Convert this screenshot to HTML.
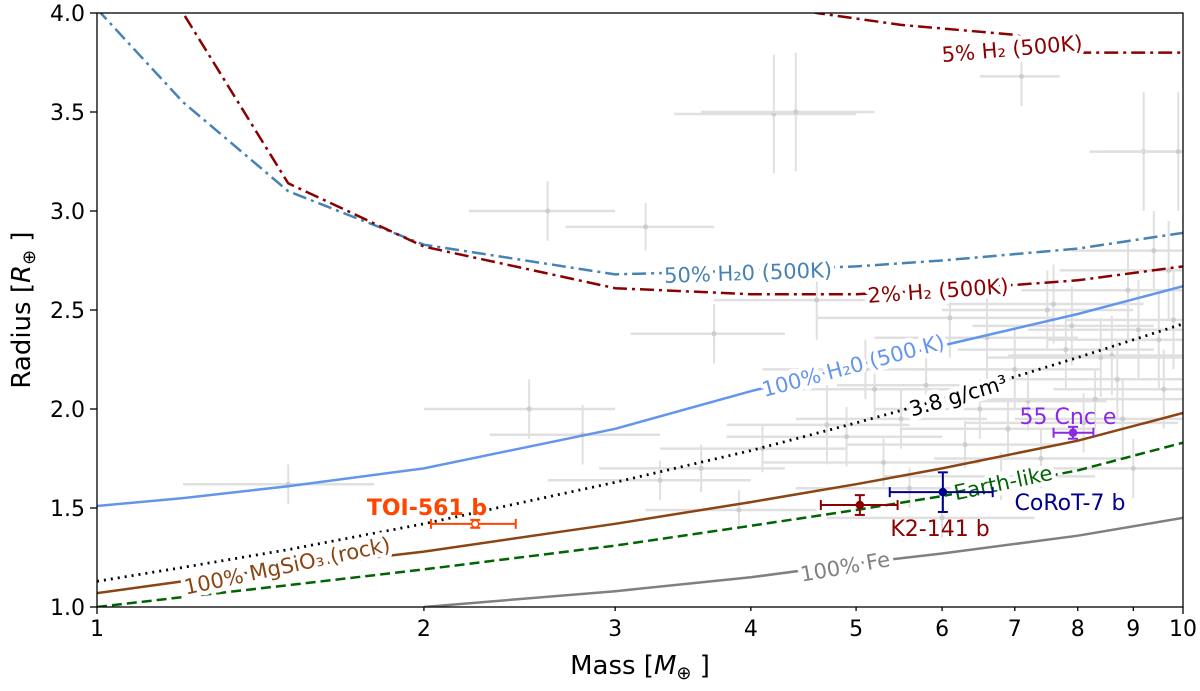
<!DOCTYPE html>
<html><head><meta charset="utf-8"><style>
body{margin:0;background:#fff}
svg text{font-family:"DejaVu Sans","Liberation Sans",sans-serif}
</style></head><body>
<svg id="chart" width="1200" height="686" viewBox="0 0 1200 686">
<defs><clipPath id="clip"><rect x="97" y="13" width="1086" height="594"/></clipPath></defs>
<g id="bg" clip-path="url(#clip)"></g>
<g id="curves" clip-path="url(#clip)"></g>
<g id="labels"></g>
<g id="pts"></g>
<rect x="97" y="13" width="1086" height="594" fill="none" stroke="#000" stroke-width="1.3"/>
<g id="axes"></g>
<text x="640" y="674" font-size="26" text-anchor="middle">Mass [<tspan font-style="italic">M</tspan><tspan font-size="18" dy="5">⊕</tspan><tspan dy="-5"> ]</tspan></text>
<text transform="translate(30,310) rotate(-90)" font-size="26" text-anchor="middle">Radius [<tspan font-style="italic">R</tspan><tspan font-size="18" dy="5">⊕</tspan><tspan dy="-5"> ]</tspan></text>
</svg>
<script>
const masses=[1,1.2,1.5,2,3,4,5,6,8,10];
const feR=[null,null,null,1.0,1.08,1.15,1.22,1.27,1.36,1.45];
const earthR=[1.0,1.05,1.11,1.19,1.31,1.41,1.49,1.56,1.69,1.83];
const rockR=[1.07,1.13,1.2,1.28,1.42,1.53,1.62,1.70,1.84,1.98];
const dens38R=[1.13,1.2,1.29,1.42,1.63,1.79,1.93,2.05,2.26,2.43];
const waterR=[1.51,1.55,1.61,1.70,1.90,2.09,2.22,2.32,2.48,2.62];
const h2o50R=[4.02,3.55,3.1,2.83,2.68,2.70,2.72,2.75,2.81,2.89];
const h2pct2R=[4.3,4.0,3.14,2.82,2.61,2.58,2.58,2.60,2.65,2.72];
const h2pct5M=[4.3,4.6,5.5,7,8,10];
const h2pct5R=[4.04,4.0,3.94,3.89,3.8,3.8];
const planetNames=["TOI-561 b","K2-141 b","CoRoT-7 b","55 Cnc e"];
const planetM=[2.23,5.04,6.01,7.92];
const planetMlo=[2.03,4.64,5.37,7.6];
const planetMhi=[2.43,5.46,6.68,8.27];
const planetR=[1.42,1.515,1.58,1.88];
const planetRerr=[0.02,0.05,0.1,0.03];
const bgM=[1.5,2.6,3.2,3.7,4.2,4.7,5.1,5.6,6.1,6.6,7.1,7.6,8.1,8.6,9.2,9.6,9.9,4.9,6.3,7.4,8.8,3.3,2.5,5.8,7.9,9.4,4.4,6.8,8.4,9.7,2.8,3.9,5.3,7.2,9.0,6.0,4.6,8.7,7.0,7.8,8.3,9.1,9.5,6.5,5.5,4.1,3.6,7.5,8.9,9.8,6.9,5.2];
const bgR=[1.62,3.0,2.92,2.38,3.49,1.92,2.2,1.6,2.46,2.36,3.68,2.53,1.93,2.27,3.3,2.1,3.3,1.86,1.82,1.75,1.95,1.64,2.0,2.12,2.42,2.8,3.5,1.66,2.26,2.7,1.87,1.49,1.73,2.04,1.7,1.45,2.55,2.15,2.2,2.3,2.05,2.4,2.35,2.0,1.95,1.8,1.7,2.5,2.6,2.45,1.9,2.1];
const bgMe=[0.3,0.4,0.5,0.6,0.8,0.9,1.0,1.2,1.5,1.4,0.6,1.6,1.8,1.7,1.0,2.0,1.5,1.1,1.4,1.5,1.8,0.7,0.5,1.0,1.5,1.5,0.8,1.5,1.8,2.0,0.5,0.7,1.2,1.3,1.9,1.3,0.9,1.8,1.4,1.6,1.7,1.9,2.0,1.3,1.1,0.8,0.7,1.5,1.8,2.0,1.4,1.0];
const bgRe=[0.1,0.15,0.12,0.15,0.3,0.2,0.15,0.1,0.2,0.25,0.15,0.2,0.15,0.2,0.3,0.2,0.3,0.15,0.12,0.15,0.2,0.1,0.15,0.15,0.2,0.2,0.3,0.12,0.2,0.25,0.15,0.1,0.12,0.15,0.15,0.1,0.2,0.2,0.2,0.2,0.15,0.25,0.25,0.15,0.15,0.12,0.12,0.2,0.25,0.25,0.15,0.15];
const xTicks=[1,2,3,4,5,6,7,8,9,10];
const yTicks=[1.0,1.5,2.0,2.5,3.0,3.5,4.0];

const NS="http://www.w3.org/2000/svg";
const X=m=>97+Math.log10(m)*1086;
const Y=r=>607-(r-1.0)*198;
function el(t,a,p){const e=document.createElementNS(NS,t);for(const k in a)e.setAttribute(k,a[k]);p.appendChild(e);return e;}
const bg=document.getElementById('bg'),cv=document.getElementById('curves'),lb=document.getElementById('labels'),pts=document.getElementById('pts'),ax=document.getElementById('axes');

bgM.forEach((m,i)=>{
  const g=el('g',{},bg);
  
  
  el('line',{x1:X(Math.max(0.5,m-bgMe[i])),x2:X(m+bgMe[i]),y1:Y(bgR[i]),y2:Y(bgR[i]),stroke:'#e0e0e0','stroke-width':2.5},g);
  el('line',{x1:X(m),x2:X(m),y1:Y(bgR[i]-bgRe[i]),y2:Y(bgR[i]+bgRe[i]),stroke:'#e0e0e0','stroke-width':2},g);
  el('circle',{cx:X(m),cy:Y(bgR[i]),r:2.5,fill:'#ccc'},g);
});

function curve(ms,rs,color,dash,name,w){
  let d='';ms.forEach((m,i)=>{if(rs[i]==null)return;d+=(d?'L':'M')+X(m).toFixed(1)+','+Y(rs[i]).toFixed(1);});
  const p=el('path',{d:d,fill:'none',stroke:color,'stroke-width':w||2.5,'stroke-dasharray':dash||'none'},cv);
  
  
}
curve(masses,feR,'#808080','','curve-100-fe');
curve(masses,earthR,'#006400','10,5','curve-earth-like');
curve(masses,rockR,'#8b4513','','curve-rock');
curve(masses,dens38R,'#000','2,5','curve-3-8-density',2.8);
curve(masses,waterR,'#6495ed','','curve-100-water');
curve(masses,h2o50R,'#4682b4','14,5,3,5','curve-50-water');
curve(masses,h2pct2R,'#8b0000','14,5,3,5','curve-2-h2');
curve(h2pct5M,h2pct5R,'#8b0000','14,5,3,5','curve-5-h2');

function label(txt,x,y,rot,color,name){
  const t=el('text',{x:x,y:y+8,'font-size':21,fill:color,'text-anchor':'middle',transform:`rotate(${rot},${x},${y})`,stroke:'#fff','stroke-width':9,'paint-order':'stroke','stroke-linejoin':'round'},lb);
  t.textContent=txt;
  
  
}
label('100% Fe',845,566,-10,'#808080','label-100-fe');
label('100% MgSiO₃ (rock)',287,565,-12,'#8b4513','label-rock');
label('Earth-like',1003,482,-12,'#006400','label-earth-like');
label('3.8 g/cm³',958,395,-16,'#000','label-density');
label('100% H₂0 (500 K)',853,365,-15,'#6495ed','label-100-water');
label('50% H₂0 (500K)',748,272,-2,'#4682b4','label-50-water');
label('2% H₂ (500K)',938,290,-4,'#8b0000','label-2-h2');
label('5% H₂ (500K)',1012,48,-5,'#8b0000','label-5-h2');

const pColors=['#ff4500','#8b0000','#00008b','#8a2be2'];
const lblPos=[[427,507,1],[940,528,0],[1070,502,0],[1068,416,0]];
planetM.forEach((m,i)=>{
  const g=el('g',{},pts);
  
  
  const c=pColors[i],x=X(m),y=Y(planetR[i]);
  el('line',{x1:X(planetMlo[i]),x2:X(planetMhi[i]),y1:y,y2:y,stroke:c,'stroke-width':2},g);
  el('line',{x1:x,x2:x,y1:Y(planetR[i]-planetRerr[i]),y2:Y(planetR[i]+planetRerr[i]),stroke:c,'stroke-width':2},g);
  [X(planetMlo[i]),X(planetMhi[i])].forEach(cx=>el('line',{x1:cx,x2:cx,y1:y-5,y2:y+5,stroke:c,'stroke-width':2},g));
  const yy1=Y(planetR[i]-planetRerr[i]),yy2=Y(planetR[i]+planetRerr[i]);
  [yy1,yy2].forEach(cy=>el('line',{x1:x-5,x2:x+5,y1:cy,y2:cy,stroke:c,'stroke-width':2},g));
  el('circle',{cx:x,cy:y,r:3.5,fill:i==0?'#fff':c,stroke:c,'stroke-width':1.5},g);
  const lp=lblPos[i];
  const t=el('text',{x:lp[0],y:lp[1]+8,'font-size':22,fill:c,'text-anchor':'middle','font-weight':lp[2]?'bold':'normal'},g);
  t.textContent=planetNames[i];
});

xTicks.forEach(v=>{
  const x=X(v);const major=(v==1||v==10);
  el('line',{x1:x,x2:x,y1:607,y2:607+(major?7:4),stroke:'#000','stroke-width':1.3},ax);
  const t=el('text',{x:x,y:636,'font-size':22,'text-anchor':'middle'},ax);
  t.textContent=v;
  
  
});
yTicks.forEach(v=>{
  const y=Y(v);
  el('line',{x1:90,x2:97,y1:y,y2:y,stroke:'#000','stroke-width':1.3},ax);
  const t=el('text',{x:85,y:y+8,'font-size':22,'text-anchor':'end'},ax);
  t.textContent=v.toFixed(1);
  
  
});
</script>
</body></html>
